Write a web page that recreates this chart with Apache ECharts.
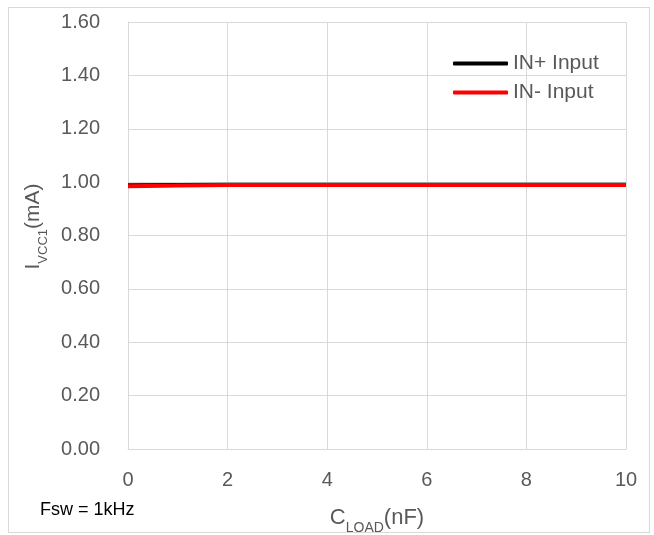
<!DOCTYPE html>
<html>
<head>
<meta charset="utf-8">
<script src="https://cdn.jsdelivr.net/npm/echarts@6/dist/echarts.min.js"></script>
<style>
  html, body { margin: 0; padding: 0; background: #fff; }
  #frame { position: absolute; left: 8px; top: 7px; width: 640px; height: 524px; border: 1px solid #d9d9d9; }
  #chart { position: absolute; left: 0; top: 0; width: 654px; height: 535px; }
</style>
</head>
<body>
<div id="frame"></div>
<div id="chart"></div>
<script>
// C_LOAD (nF)
const cLoad = [0, 1, 2, 4, 6, 8, 10];
// I_VCC1 (mA)
const inPlus = [0.988, 0.989, 0.990, 0.990, 0.990, 0.990, 0.990];
const inMinus = [0.985, 0.987, 0.989, 0.989, 0.989, 0.989, 0.989];

const seriesNames = ['IN+ Input', 'IN- Input'];
const seriesColors = ['#000000', '#ff0000'];

const font = 'Liberation Sans';
const labelColor = '#595959';
const chart = echarts.init(document.getElementById('chart'));

const option = {
  animation: false,
  textStyle: { fontFamily: font },
  grid: { left: 128, right: 28, top: 22, bottom: 86, outerBoundsMode: 'none', containLabel: false },
  legend: {
    orient: 'vertical',
    left: 448,
    top: 48,
    itemWidth: 55,
    itemHeight: 4,
    itemGap: 8,
    icon: 'roundRect',
    textStyle: { fontFamily: font, fontSize: 21, color: labelColor },
    data: seriesNames
  },
  xAxis: {
    type: 'value',
    min: 0,
    max: 10,
    interval: 2,
    name: '{n|C}{s|LOAD}{n|(nF)}',
    nameLocation: 'middle',
    nameGap: 58,
    nameTextStyle: {
      rich: {
        n: { fontFamily: font, fontSize: 22, color: labelColor },
        s: { fontFamily: font, fontSize: 14, color: labelColor, verticalAlign: 'bottom', padding: [0, 0, -6, 0] }
      }
    },
    axisLine: { show: true, lineStyle: { color: '#d9d9d9', width: 1 } },
    axisTick: { show: false },
    axisLabel: { color: labelColor, fontSize: 20, margin: 21, fontFamily: font },
    splitLine: { show: true, lineStyle: { color: '#d9d9d9', width: 1 } }
  },
  yAxis: {
    type: 'value',
    min: 0,
    max: 1.6,
    interval: 0.2,
    name: '{n|I}{s|VCC1}{n|(mA)}',
    nameLocation: 'middle',
    nameGap: 84,
    nameRotate: 90,
    nameTextStyle: {
      padding: [0, 0, 0, 18],
      rich: {
        n: { fontFamily: font, fontSize: 21, color: labelColor },
        s: { fontFamily: font, fontSize: 13, color: labelColor, verticalAlign: 'bottom', padding: [0, 0, -6, 0] }
      }
    },
    axisLine: { show: true, lineStyle: { color: '#d9d9d9', width: 1 } },
    axisTick: { show: false },
    axisLabel: { color: labelColor, fontSize: 20, margin: 28, fontFamily: font, formatter: v => v.toFixed(2) },
    splitLine: { show: true, lineStyle: { color: '#d9d9d9', width: 1 } }
  },
  graphic: [{
    type: 'text',
    left: 40,
    top: 501,
    style: { text: 'Fsw = 1kHz', fontFamily: font, fontSize: 18, fill: '#000' }
  }],
  series: [inPlus, inMinus].map((vals, i) => ({
    name: seriesNames[i],
    type: 'line',
    data: cLoad.map((x, j) => [x, vals[j]]),
    showSymbol: false,
    symbol: 'none',
    lineStyle: { color: seriesColors[i], width: 4 },
    itemStyle: { color: seriesColors[i] }
  }))
};

chart.setOption(option);
</script>
</body>
</html>
